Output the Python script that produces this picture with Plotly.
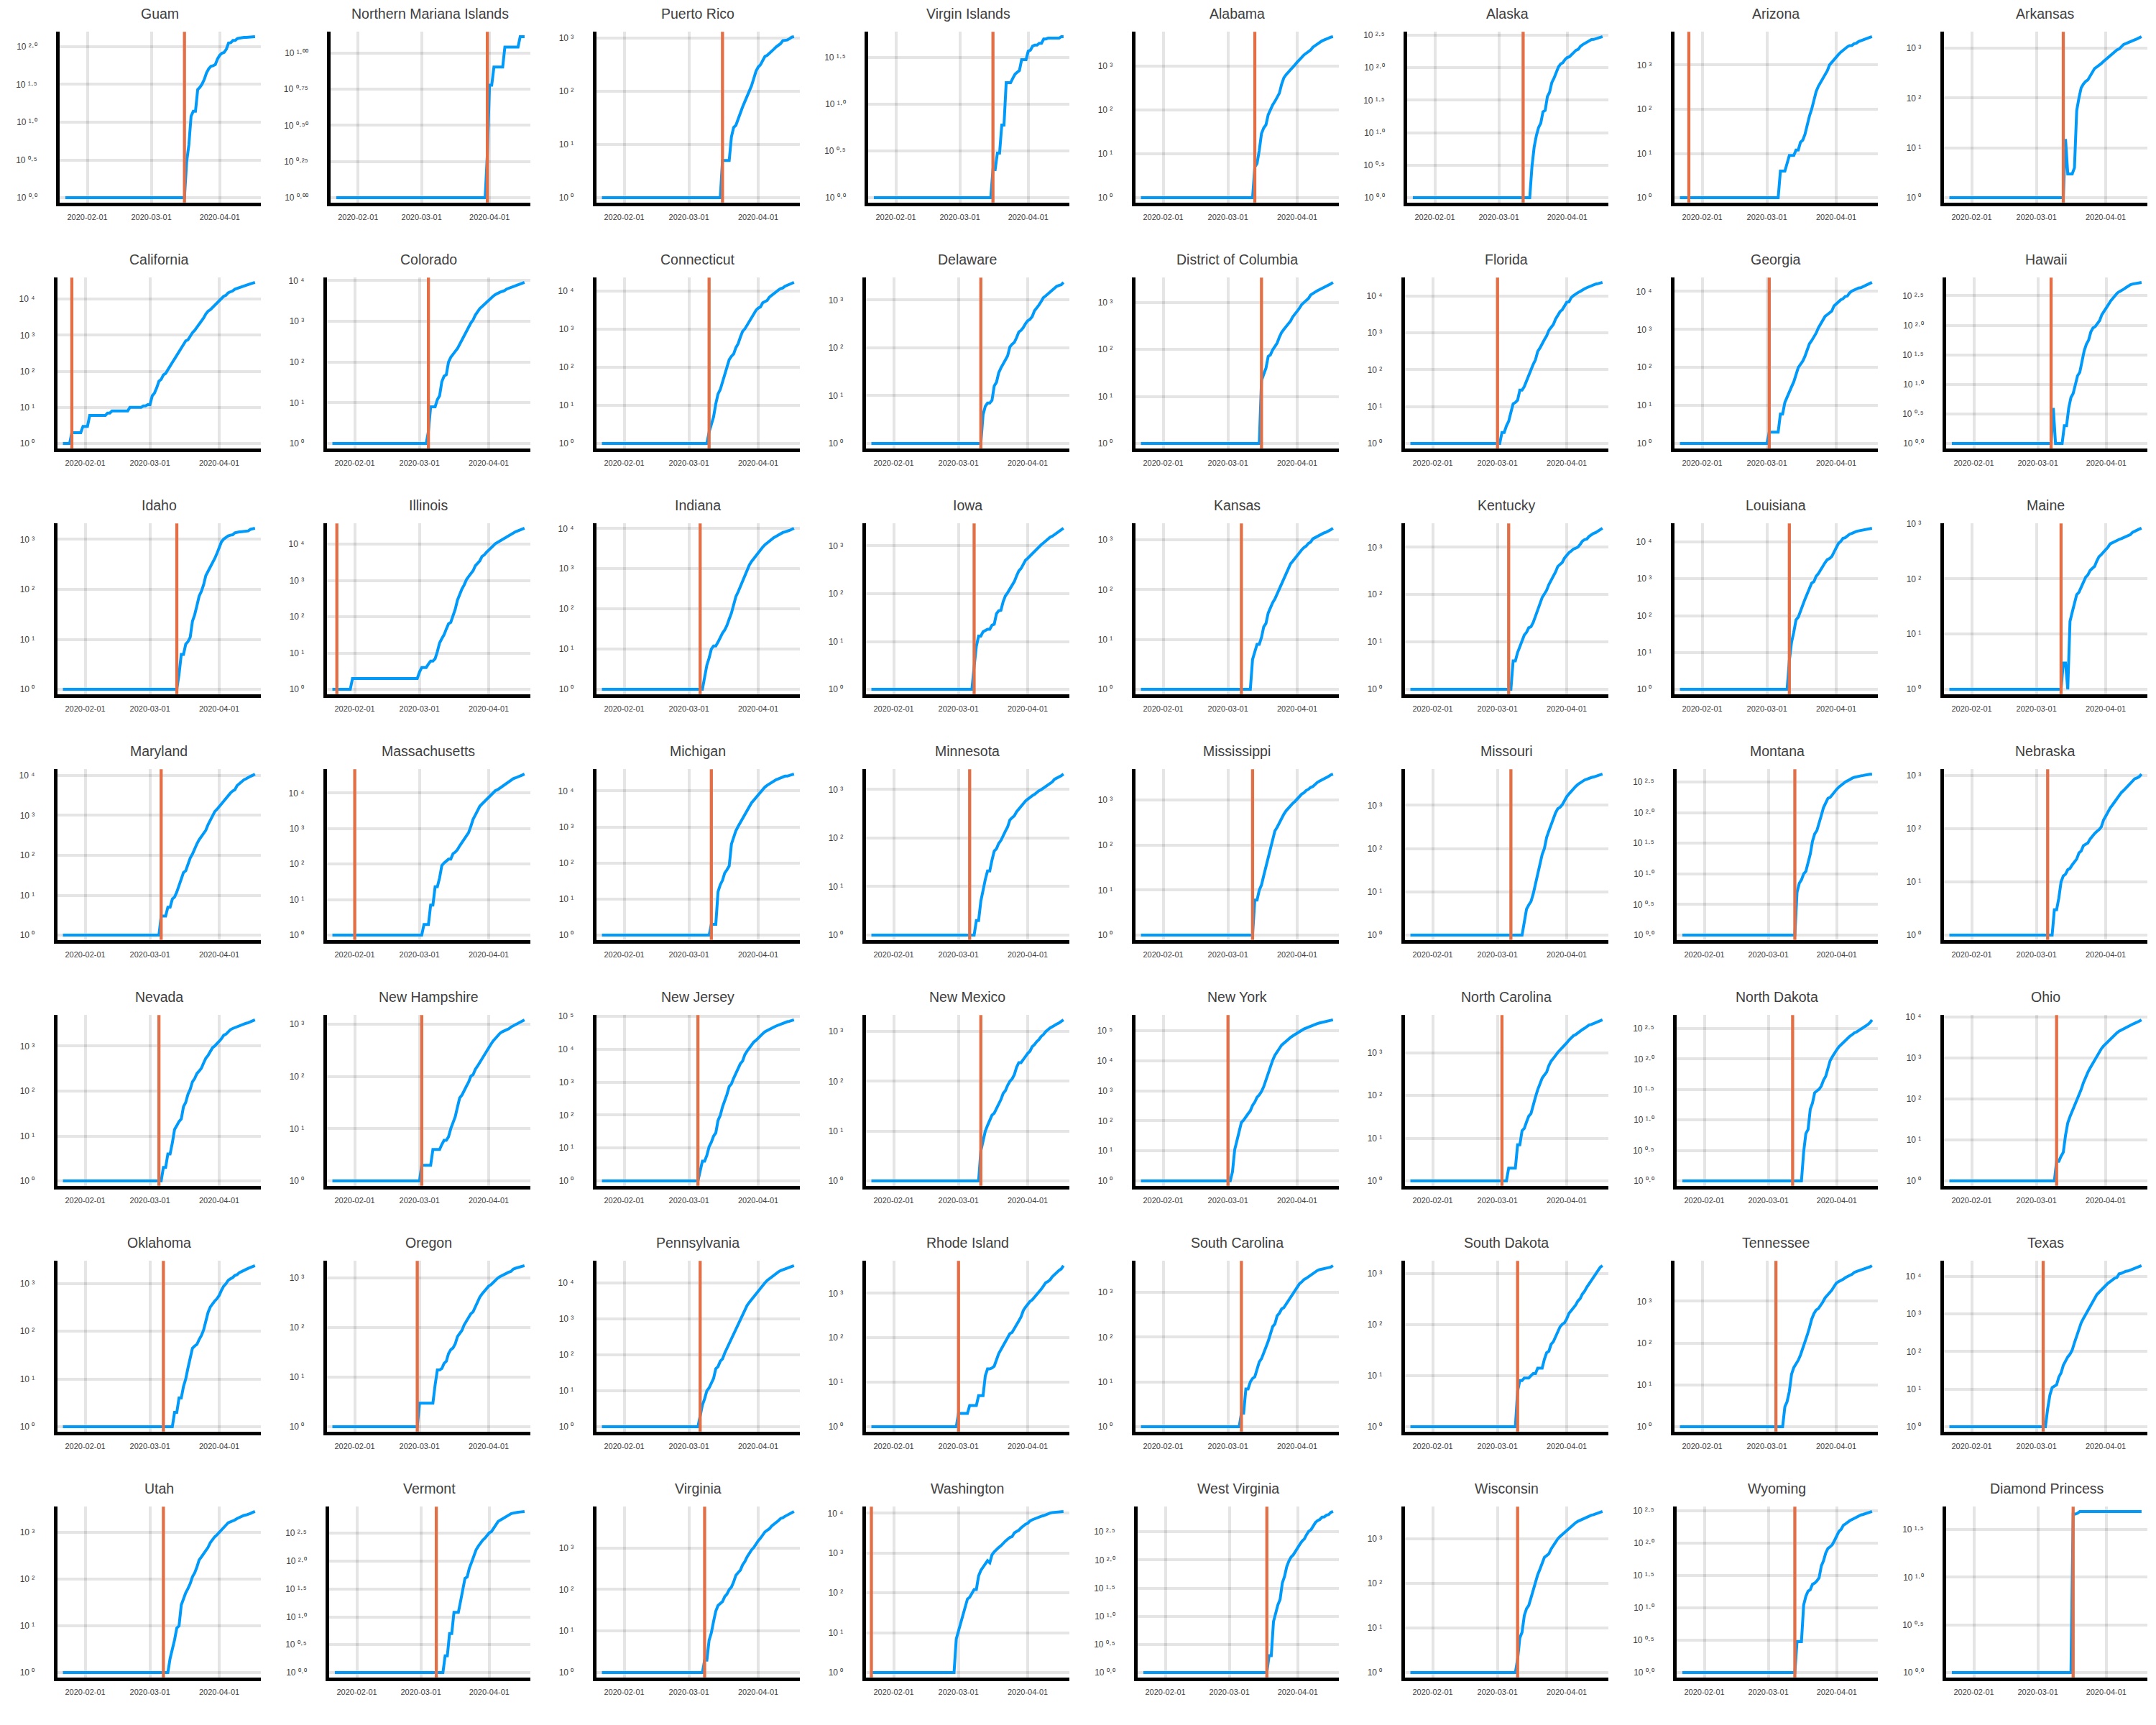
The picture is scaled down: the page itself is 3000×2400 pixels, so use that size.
import numpy as np
import pandas as pd
import plotly.graph_objects as go

# ---------------- data ----------------
DATA_START = "2020-01-22"
DATA_END = "2020-04-17"
X_TICK_DATES = ["2020-02-01", "2020-03-01", "2020-04-01"]
FLOOR_VALUE = 1  # plotted value on days before the series start

STATES = [
    "Guam", "Northern Mariana Islands", "Puerto Rico", "Virgin Islands", "Alabama", "Alaska", "Arizona", "Arkansas",
    "California", "Colorado", "Connecticut", "Delaware", "District of Columbia", "Florida", "Georgia", "Hawaii",
    "Idaho", "Illinois", "Indiana", "Iowa", "Kansas", "Kentucky", "Louisiana", "Maine",
    "Maryland", "Massachusetts", "Michigan", "Minnesota", "Mississippi", "Missouri", "Montana", "Nebraska",
    "Nevada", "New Hampshire", "New Jersey", "New Mexico", "New York", "North Carolina", "North Dakota", "Ohio",
    "Oklahoma", "Oregon", "Pennsylvania", "Rhode Island", "South Carolina", "South Dakota", "Tennessee", "Texas",
    "Utah", "Vermont", "Virginia", "Washington", "West Virginia", "Wisconsin", "Wyoming", "Diamond Princess",
]

FIRST_CASE_DATES = [
    "2020-03-16", "2020-03-31", "2020-03-16", "2020-03-16", "2020-03-13", "2020-03-12", "2020-01-26", "2020-03-13",
    "2020-01-26", "2020-03-05", "2020-03-10", "2020-03-11", "2020-03-16", "2020-03-01", "2020-03-02", "2020-03-07",
    "2020-03-13", "2020-01-24", "2020-03-06", "2020-03-08", "2020-03-07", "2020-03-06", "2020-03-11", "2020-03-12",
    "2020-03-06", "2020-02-01", "2020-03-11", "2020-03-06", "2020-03-12", "2020-03-07", "2020-03-13", "2020-03-06",
    "2020-03-05", "2020-03-02", "2020-03-05", "2020-03-11", "2020-03-01", "2020-03-03", "2020-03-12", "2020-03-10",
    "2020-03-07", "2020-02-29", "2020-03-06", "2020-03-01", "2020-03-07", "2020-03-10", "2020-03-05", "2020-03-04",
    "2020-03-07", "2020-03-08", "2020-03-08", "2020-01-22", "2020-03-18", "2020-03-10", "2020-03-13", "2020-03-17",
]

SERIES_START_DATES = [
    "2020-03-16", "2020-03-31", "2020-03-16", "2020-03-16", "2020-03-13", "2020-03-12", "2020-03-07", "2020-03-13",
    "2020-01-26", "2020-03-05", "2020-03-10", "2020-03-11", "2020-03-16", "2020-03-01", "2020-03-02", "2020-03-07",
    "2020-03-13", "2020-01-31", "2020-03-06", "2020-03-08", "2020-03-07", "2020-03-06", "2020-03-11", "2020-03-12",
    "2020-03-06", "2020-03-02", "2020-03-11", "2020-03-06", "2020-03-12", "2020-03-07", "2020-03-13", "2020-03-06",
    "2020-03-05", "2020-03-02", "2020-03-05", "2020-03-11", "2020-03-01", "2020-03-03", "2020-03-12", "2020-03-10",
    "2020-03-07", "2020-02-29", "2020-03-06", "2020-03-01", "2020-03-07", "2020-03-10", "2020-03-05", "2020-03-04",
    "2020-03-07", "2020-03-12", "2020-03-08", "2020-02-29", "2020-03-18", "2020-03-10", "2020-03-13", "2020-03-17",
]

V_GUAM = [1, 3, 5, 12, 14, 14, 27, 29, 32, 37, 45, 51, 55, 56, 58, 69, 77, 82, 84, 93, 112, 113, 121, 121, 128, 130,
          133, 133, 133, 134, 135, 136, 136]
V_NMI = [2, 6, 6, 8, 8, 8, 8, 8, 11, 11, 11, 11, 11, 11, 11, 13, 13, 13]
V_PR = [5, 5, 5, 5, 14, 21, 23, 31, 39, 51, 64, 79, 100, 127, 174, 239, 286, 316, 378, 452, 475, 513, 573, 620, 683,
        725, 788, 897, 903, 923, 974, 1043, 1068]
V_VI = [2, 2, 3, 3, 6, 6, 17, 17, 17, 19, 21, 22, 23, 30, 30, 30, 37, 38, 42, 43, 43, 45, 45, 50, 50, 51, 51, 51, 51,
        51, 51, 53, 53]
V_AL = [5, 6, 12, 29, 39, 46, 78, 106, 131, 157, 196, 242, 386, 538, 639, 720, 830, 947, 1077, 1233, 1432, 1580, 1796,
        1968, 2169, 2328, 2703, 2947, 3217, 3563, 3734, 3953, 4075, 4345, 4571, 4712]
V_AK = [1, 1, 1, 1, 3, 6, 9, 12, 14, 21, 22, 36, 42, 59, 69, 85, 102, 114, 119, 133, 143, 147, 157, 171, 185, 191, 213,
        226, 235, 246, 257, 270, 272, 277, 285, 293, 300]
V_AZ = [4, 4, 4, 6, 9, 9, 9, 12, 12, 18, 20, 27, 45, 70, 100, 160, 250, 330, 400, 510, 600, 740, 1000, 1160, 1290, 1530,
        1720, 1940, 2130, 2450, 2580, 2730, 2760, 3020, 3110, 3390, 3540, 3700, 3800, 3960, 4230, 4380]
V_AR = [1, 15, 3, 3, 3, 4, 56, 100, 160, 190, 215, 230, 280, 340, 390, 420, 450, 490, 540, 590, 640, 730, 780, 850, 920,
        960, 1050, 1180, 1230, 1280, 1310, 1380, 1470, 1530, 1620, 1700]
V_CA = [2, 2, 2, 2, 2, 3, 3, 3, 6, 6, 6, 6, 6, 6, 6, 6, 7, 7, 8, 8, 8, 8, 8, 8, 8, 8, 10, 10, 10, 10, 10, 10, 11, 11, 12,
        12, 21, 25, 35, 53, 60, 80, 88, 114, 144, 177, 221, 282, 340, 426, 557, 698, 751, 952, 1177, 1364, 1642, 2108,
        2538, 2998, 3899, 4657, 5095, 5852, 7138, 8210, 9399, 10773, 12004, 12837, 15034, 16019, 16957, 18897, 19710,
        21081, 21706, 22795, 23931, 25356, 26686, 27677, 29157]
V_CO = [2, 8, 8, 8, 12, 15, 33, 45, 49, 101, 131, 160, 183, 216, 277, 363, 475, 591, 720, 912, 1086, 1430, 1734, 2061,
        2311, 2627, 2966, 3342, 3728, 4173, 4565, 4950, 5172, 5429, 5655, 6202, 6510, 6893, 7303, 7691, 7941, 8286, 8675,
        9047]
V_CT = [2, 3, 5, 11, 20, 26, 41, 68, 96, 159, 194, 223, 327, 415, 618, 875, 1012, 1291, 1524, 1993, 2571, 3128, 3557,
        3824, 4914, 5276, 5675, 6906, 7781, 8781, 9784, 10538, 11510, 12035, 13381, 13989, 14755, 15884, 16809]
V_DE = [1, 4, 6, 7, 7, 8, 16, 19, 30, 38, 45, 56, 68, 104, 119, 130, 163, 214, 232, 264, 319, 368, 393, 450, 593, 673,
        783, 928, 1116, 1209, 1326, 1479, 1625, 1761, 1926, 2014, 2070, 2323]
V_DC = [22, 31, 40, 71, 77, 98, 116, 137, 183, 231, 267, 304, 342, 401, 495, 586, 653, 757, 902, 998, 1097, 1211, 1440,
        1523, 1660, 1778, 1875, 1955, 2058, 2197, 2350, 2476, 2666]
V_FL = [1, 1, 2, 2, 3, 4, 7, 12, 13, 15, 28, 28, 35, 50, 76, 100, 141, 186, 314, 390, 520, 658, 830, 1171, 1412, 1682,
        2357, 2900, 3763, 4246, 5473, 6741, 6955, 9000, 10268, 11545, 12350, 13324, 14747, 15698, 16826, 17968, 18986,
        19895, 21019, 21628, 22511, 23340]
V_GA = [2, 2, 2, 2, 2, 6, 6, 12, 17, 22, 31, 42, 66, 99, 121, 146, 197, 287, 420, 507, 620, 800, 1097, 1387, 1643, 2198,
        2446, 2683, 3032, 4117, 4748, 5444, 5967, 6383, 7314, 7558, 9156, 10189, 10885, 11859, 12261, 12452, 13315,
        14223, 15260, 15669, 17194]
V_HI = [1, 4, 1, 1, 1, 1, 2, 2, 4, 6, 7, 10, 14, 16, 26, 37, 48, 56, 77, 90, 95, 106, 120, 151, 175, 204, 224, 258, 285,
        319, 351, 371, 387, 410, 435, 465, 486, 499, 504, 511, 517, 530]
V_ID = [1, 2, 5, 5, 8, 9, 11, 23, 31, 47, 73, 91, 123, 189, 230, 261, 340, 415, 525, 669, 891, 1012, 1101, 1170, 1210,
        1232, 1353, 1396, 1407, 1426, 1453, 1464, 1473, 1587, 1655, 1668]
V_IL = [2, 2, 2, 2, 2, 2, 2, 2, 2, 2, 2, 2, 2, 2, 2, 2, 2, 2, 2, 2, 2, 2, 2, 2, 2, 2, 2, 2, 2, 2,
        3, 4, 4, 4, 5, 6, 6, 7, 11, 19, 25, 32, 46, 64, 70, 105, 161, 288, 422, 585, 753, 1049, 1285, 1537, 1865, 2538,
        3024, 3491, 4596, 5057, 5994, 6980, 7695, 8904, 10357, 11256, 12262, 13549, 15078, 16422, 17887, 19180, 20852,
        22025, 23247, 24593, 25733, 27575]
V_IN = [1, 1, 2, 4, 6, 10, 12, 12, 15, 20, 25, 30, 39, 56, 79, 126, 203, 265, 365, 477, 645, 981, 1233, 1514, 1786,
        2159, 2565, 3039, 3437, 3953, 4411, 4944, 5507, 5943, 6351, 6907, 7435, 7928, 8236, 8527, 8960, 9542, 10154]
V_IA = [3, 8, 13, 13, 16, 17, 18, 18, 22, 23, 38, 44, 45, 68, 90, 105, 124, 145, 179, 235, 298, 336, 424, 497, 549, 614,
        699, 786, 868, 946, 1048, 1145, 1270, 1388, 1510, 1587, 1710, 1899, 1995, 2141, 2332]
V_KS = [1, 1, 1, 1, 1, 4, 6, 8, 8, 11, 18, 21, 34, 44, 55, 65, 82, 98, 126, 168, 202, 261, 330, 372, 429, 484, 552, 629,
        698, 747, 845, 900, 1046, 1106, 1166, 1268, 1337, 1376, 1425, 1494, 1588, 1705]
V_KY = [1, 1, 4, 4, 6, 8, 10, 14, 16, 20, 21, 26, 35, 47, 63, 87, 103, 124, 163, 197, 248, 302, 394, 439, 480, 591, 680,
        770, 831, 917, 955, 1008, 1149, 1346, 1452, 1495, 1693, 1840, 1963, 2048, 2210, 2291, 2522]
V_LA = [6, 19, 36, 77, 91, 136, 196, 280, 392, 538, 763, 837, 1172, 1388, 1795, 2305, 2746, 3315, 3540, 4025, 5237,
        6424, 9150, 10297, 12496, 13010, 14867, 16284, 17030, 18283, 19253, 20014, 20595, 21016, 21518, 21951, 23118,
        23580]
V_ME = [1, 3, 3, 1, 17, 25, 35, 52, 57, 70, 89, 107, 118, 142, 155, 168, 211, 253, 275, 303, 344, 376, 432, 456, 470,
        499, 519, 537, 560, 586, 616, 633, 698, 735, 770, 796, 827]
V_MD = [3, 3, 3, 5, 5, 8, 9, 12, 18, 26, 37, 41, 60, 85, 107, 150, 193, 244, 290, 349, 423, 583, 775, 994, 1239, 1413,
        1660, 1985, 2331, 2758, 3125, 3609, 4045, 4371, 5529, 6185, 6968, 7694, 8225, 8936, 9472, 10032, 10784]
V_MA = [1, 2, 2, 2, 7, 7, 23, 23, 41, 92, 108, 123, 138, 138, 197, 218, 256, 328, 413, 525, 646, 777, 1159, 1838, 2417,
        3240, 4257, 4955, 5752, 6620, 7738, 8966, 10402, 11736, 12500, 13837, 15202, 16790, 18941, 20974, 22860, 25475,
        26867, 28163, 29918, 32181, 34402]
V_MI = [2, 2, 2, 16, 25, 33, 53, 65, 83, 334, 552, 788, 1037, 1329, 1793, 2296, 2845, 3634, 4658, 5486, 6508, 7630,
        9315, 10791, 12744, 14225, 15718, 17221, 18970, 20346, 21504, 22783, 24244, 25635, 25635, 27001, 28059, 29263]
V_MN = [1, 1, 1, 2, 2, 5, 9, 14, 21, 21, 35, 54, 60, 77, 89, 115, 138, 169, 235, 262, 287, 346, 398, 441, 503, 576, 629,
        689, 742, 789, 865, 935, 986, 1069, 1154, 1242, 1336, 1427, 1621, 1695, 1809, 1912, 2071]
V_MS = [1, 6, 6, 10, 13, 21, 34, 50, 80, 140, 207, 249, 320, 377, 485, 579, 663, 758, 847, 937, 1073, 1177, 1358, 1455,
        1638, 1738, 1915, 2003, 2260, 2469, 2642, 2781, 2942, 3087, 3360, 3624, 3793]
V_MO = [1, 1, 1, 1, 1, 1, 2, 4, 5, 6, 9, 15, 24, 47, 73, 101, 181, 255, 356, 502, 670, 838, 903, 1031, 1327, 1581, 1833,
        2113, 2367, 2722, 3037, 3327, 3539, 3851, 4024, 4269, 4388, 4515, 4686, 4895, 5111, 5283]
V_MT = [1, 5, 7, 8, 10, 11, 15, 21, 34, 45, 51, 65, 90, 121, 147, 171, 177, 198, 217, 241, 262, 281, 298, 319, 332, 354,
        365, 377, 387, 394, 399, 404, 415, 416, 422, 426]
V_NE = [1, 1, 1, 3, 3, 5, 10, 13, 14, 17, 18, 21, 24, 27, 35, 38, 48, 51, 54, 64, 73, 81, 89, 96, 108, 145, 172, 210,
        246, 279, 321, 367, 409, 479, 523, 577, 635, 699, 791, 871, 901, 952, 1066]
V_NV = [1, 1, 2, 2, 4, 4, 7, 14, 17, 21, 24, 45, 56, 85, 109, 161, 190, 245, 278, 321, 420, 535, 621, 738, 920, 1008,
        1113, 1279, 1458, 1742, 1836, 2087, 2318, 2456, 2584, 2700, 2836, 2971, 3088, 3211, 3321, 3524, 3626, 3830]
V_NH = [2, 2, 2, 2, 2, 4, 4, 4, 4, 5, 6, 6, 7, 10, 13, 17, 26, 39, 44, 55, 65, 78, 101, 108, 137, 158, 187, 214, 258,
        314, 367, 415, 479, 540, 621, 669, 715, 747, 788, 819, 885, 929, 985, 1020, 1091, 1139, 1211]
V_NJ = [1, 2, 4, 4, 6, 11, 15, 23, 29, 69, 98, 178, 267, 427, 742, 890, 1327, 1914, 2844, 3675, 4402, 6876, 8825, 11124,
        13386, 16636, 18696, 22255, 25590, 29895, 34124, 37505, 41090, 44416, 47437, 51027, 54588, 58151, 61850, 64584,
        68824, 71030, 75317, 78467]
V_NM = [4, 6, 10, 13, 17, 21, 23, 28, 35, 43, 57, 65, 83, 100, 112, 136, 191, 237, 237, 281, 315, 363, 403, 495, 543,
        624, 686, 794, 865, 989, 1091, 1174, 1245, 1345, 1407, 1484, 1597, 1711]
V_NY = [1, 1, 2, 11, 22, 44, 89, 106, 142, 173, 217, 326, 421, 610, 732, 950, 1374, 2382, 4152, 7102, 10356, 15168,
        20875, 25665, 33066, 38987, 44635, 53363, 59568, 67174, 75832, 83889, 92506, 102987, 113833, 123160, 131815,
        139875, 151061, 161779, 172348, 181026, 189033, 195031, 202208, 213779, 222284, 229642]
V_NC = [1, 1, 1, 2, 2, 2, 2, 7, 7, 15, 17, 24, 33, 38, 64, 92, 137, 184, 255, 302, 353, 504, 639, 738, 887, 1020, 1167,
        1313, 1535, 1708, 1977, 2246, 2513, 2669, 2952, 3297, 3505, 3766, 4135, 4486, 4596, 4816, 5024, 5195, 5577, 5911]
V_ND = [1, 1, 1, 1, 1, 3, 6, 7, 15, 19, 28, 30, 32, 36, 45, 52, 68, 94, 109, 126, 142, 159, 173, 186, 207, 225, 237,
        251, 269, 278, 293, 308, 331, 341, 365, 393, 439]
V_OH = [3, 3, 4, 5, 13, 26, 37, 50, 67, 88, 119, 169, 247, 351, 443, 564, 704, 868, 1137, 1406, 1653, 1933, 2199, 2547,
        2902, 3312, 3739, 4043, 4450, 4782, 5148, 5512, 5878, 6250, 6604, 6975, 7285, 7794, 8414]
V_OK = [1, 1, 1, 1, 1, 2, 2, 4, 4, 7, 10, 17, 29, 44, 49, 53, 67, 81, 106, 164, 248, 322, 377, 429, 481, 565, 719, 879,
        988, 1159, 1252, 1327, 1472, 1524, 1684, 1794, 1868, 1970, 2069, 2184, 2263, 2357]
V_OR = [1, 3, 3, 3, 3, 3, 3, 3, 7, 14, 14, 15, 19, 21, 30, 36, 39, 47, 66, 75, 88, 114, 137, 161, 191, 209, 266, 316,
        414, 479, 548, 606, 690, 736, 826, 899, 999, 1068, 1132, 1181, 1239, 1321, 1371, 1527, 1584, 1633, 1663, 1736,
        1785]
V_PA = [2, 4, 6, 10, 12, 16, 22, 41, 47, 66, 77, 112, 152, 206, 303, 399, 509, 698, 946, 1260, 1795, 2345, 2845, 3432,
        4155, 4963, 5805, 7016, 8570, 10017, 11589, 12980, 14853, 16631, 18300, 20051, 21719, 22955, 24295, 25465,
        26753, 28258, 29888]
V_RI = [2, 2, 2, 2, 2, 3, 3, 3, 3, 5, 5, 5, 14, 20, 20, 21, 23, 33, 44, 54, 66, 83, 106, 124, 132, 165, 203, 239, 294,
        408, 488, 566, 657, 711, 806, 922, 1082, 1229, 1450, 1727, 1836, 2015, 2349, 2665, 2976, 3251, 3529, 4177]
V_SC = [2, 2, 7, 7, 10, 12, 13, 19, 28, 33, 47, 60, 81, 126, 171, 196, 299, 342, 424, 456, 539, 660, 774, 925, 1083,
        1293, 1554, 1700, 1917, 2049, 2232, 2417, 2552, 2792, 3065, 3207, 3319, 3391, 3439, 3553, 3656, 3931]
V_SD = [5, 8, 8, 9, 9, 9, 10, 11, 11, 14, 14, 14, 21, 28, 30, 41, 46, 58, 68, 90, 101, 108, 129, 165, 187, 212, 240,
        288, 320, 393, 447, 536, 626, 730, 868, 988, 1168, 1311, 1411]
V_TN = [1, 1, 1, 1, 3, 4, 7, 18, 26, 32, 39, 52, 74, 98, 154, 233, 371, 505, 615, 667, 784, 957, 1203, 1373, 1537, 1834,
        2239, 2683, 2933, 3067, 3321, 3633, 3802, 4139, 4362, 4862, 5114, 5308, 5610, 5827, 6079, 6375, 6589, 7070]
V_TX = [1, 1, 3, 7, 11, 12, 13, 21, 27, 43, 57, 72, 85, 110, 173, 260, 394, 581, 758, 974, 1153, 1563, 2052, 2552, 3266,
        3766, 4355, 4862, 5734, 6567, 7276, 8262, 8925, 9353, 11671, 12105, 13023, 13677, 13906, 14624, 15492, 16455,
        17371, 18260, 19260]
V_UT = [1, 1, 1, 2, 3, 5, 9, 10, 28, 39, 51, 63, 80, 112, 136, 181, 257, 298, 346, 402, 480, 602, 719, 806, 888, 1012,
        1092, 1255, 1428, 1605, 1675, 1738, 1846, 1980, 2101, 2206, 2303, 2363, 2417, 2548, 2683, 2805]
V_VT = [2, 2, 5, 5, 12, 12, 12, 19, 29, 49, 52, 75, 95, 123, 158, 184, 211, 235, 256, 293, 321, 338, 389, 461, 512, 543,
        575, 605, 628, 679, 711, 727, 748, 752, 759, 768, 775]
V_VA = [2, 2, 6, 9, 17, 30, 41, 45, 51, 67, 77, 99, 114, 152, 219, 254, 290, 391, 466, 604, 739, 890, 1020, 1250, 1484,
        1706, 2012, 2407, 2637, 2878, 3333, 3645, 4042, 4509, 5077, 5274, 5747, 6182, 6500, 6889, 7491]
V_WA = [7, 11, 18, 27, 39, 70, 78, 102, 122, 122, 267, 366, 442, 568, 643, 570, 904, 1076, 1187, 1376, 1524, 1793, 1996,
        2221, 2469, 2580, 3207, 3477, 3723, 4310, 4896, 5292, 5608, 6389, 6846, 7247, 7591, 7984, 8384, 8682, 9276, 9639,
        10118, 10411, 10609, 10694, 10799, 10942, 11057]
V_WV = [1, 2, 2, 8, 12, 16, 20, 39, 51, 76, 96, 113, 124, 145, 162, 191, 217, 237, 282, 324, 345, 412, 462, 502, 523,
        577, 583, 626, 640, 702, 728]
V_WI = [2, 6, 8, 19, 27, 32, 47, 72, 106, 155, 206, 282, 381, 416, 457, 585, 707, 842, 989, 1112, 1230, 1412, 1550,
        1748, 1916, 2112, 2267, 2440, 2578, 2756, 2885, 3068, 3213, 3341, 3428, 3555, 3721, 3875, 4045]
V_WY = [1, 3, 3, 3, 11, 15, 18, 19, 23, 24, 26, 29, 44, 53, 70, 82, 87, 94, 109, 130, 150, 162, 187, 197, 210, 221, 230,
        239, 253, 261, 270, 275, 282, 287, 296, 305]
V_DP = [46, 46, 47, 49, 49, 49, 49, 49, 49, 49, 49, 49, 49, 49, 49, 49, 49, 49, 49, 49, 49, 49, 49, 49, 49, 49, 49, 49,
        49, 49, 49, 49]

SERIES = [
    V_GUAM, V_NMI, V_PR, V_VI, V_AL, V_AK, V_AZ, V_AR,
    V_CA, V_CO, V_CT, V_DE, V_DC, V_FL, V_GA, V_HI,
    V_ID, V_IL, V_IN, V_IA, V_KS, V_KY, V_LA, V_ME,
    V_MD, V_MA, V_MI, V_MN, V_MS, V_MO, V_MT, V_NE,
    V_NV, V_NH, V_NJ, V_NM, V_NY, V_NC, V_ND, V_OH,
    V_OK, V_OR, V_PA, V_RI, V_SC, V_SD, V_TN, V_TX,
    V_UT, V_VT, V_VA, V_WA, V_WV, V_WI, V_WY, V_DP,
]

# ---------------- style ----------------
W, H = 3000, 2400
NCOL, NROW = 8, 7
COL_W, ROW_H = W / NCOL, H / NROW
BLUE = "#009AFA"
RED = "#E36F47"
GRID = "rgba(0,0,0,0.10)"
TXT = "#404040"
FONT = "Liberation Sans, Arial, Helvetica, sans-serif"
SUPERSCRIPT = str.maketrans("0123456789.-", "⁰¹²³⁴⁵⁶⁷⁸⁹·⁻")


def power_label(exp_text):
    return "10 " + exp_text.translate(SUPERSCRIPT)


dates = pd.date_range(DATA_START, DATA_END, freq="D")
pad_days = 0.03 * (len(dates) - 1)
fmt_t = "%Y-%m-%d %H:%M:%S"
x_range = [(dates[0] - pd.Timedelta(days=pad_days)).strftime(fmt_t),
           (dates[-1] + pd.Timedelta(days=pad_days)).strftime(fmt_t)]

fig = go.Figure()
layout_axes = {}
shapes = []
annotations = []

for i, name in enumerate(STATES):
    row, col = divmod(i, NCOL)
    k = "" if i == 0 else str(i + 1)
    start = pd.Timestamp(SERIES_START_DATES[i])
    n_pre = (start - dates[0]).days
    vals = list(SERIES[i])
    if n_pre + len(vals) != len(dates):
        raise ValueError(f"{name}: got {len(vals)} values, need {len(dates) - n_pre}")
    y = [FLOOR_VALUE] * n_pre + vals

    fig.add_trace(go.Scatter(x=dates, y=y, mode="lines", line=dict(color=BLUE, width=4),
                             xaxis="x" + k, yaxis="y" + k, showlegend=False, hoverinfo="skip"))

    lo, hi = np.log10(min(y)), np.log10(max(y))
    pad = 0.03 * (hi - lo)
    y0, y1 = lo - pad, hi + pad
    for step, fmt in [(1.0, "{:.0f}"), (0.5, "{:.1f}"), (0.25, "{:.2f}")]:
        kmin = int(np.ceil(y0 / step - 1e-9))
        kmax = int(np.floor(y1 / step + 1e-9))
        ticks = [j * step for j in range(kmin, kmax + 1)]
        if len(ticks) >= 4:
            break
    left_px = col * COL_W + {1.0: 79.5, 0.5: 83.0, 0.25: 85.0}[step]
    right_px = col * COL_W + 362.8
    top_px = row * ROW_H + 38.3
    bot_px = row * ROW_H + 276.5
    xd = [left_px / W, right_px / W]
    yd = [1 - bot_px / H, 1 - top_px / H]

    layout_axes["xaxis" + k] = dict(
        domain=xd, anchor="y" + k, type="date", range=x_range,
        tickvals=X_TICK_DATES, ticktext=X_TICK_DATES,
        showgrid=True, gridcolor=GRID, gridwidth=3.5, zeroline=False,
        showline=True, linecolor="black", linewidth=4.5,
        ticks="outside", ticklen=6, tickcolor="rgba(0,0,0,0)",
        tickfont=dict(size=11, color=TXT, family=FONT), fixedrange=True,
    )
    layout_axes["yaxis" + k] = dict(
        domain=yd, anchor="x" + k, type="log", range=[y0, y1],
        tickvals=[10 ** t for t in ticks],
        ticktext=[power_label(fmt.format(t)) for t in ticks],
        showgrid=True, gridcolor=GRID, gridwidth=3.5, zeroline=False,
        showline=True, linecolor="black", linewidth=4.5,
        ticks="outside", ticklen=24, tickcolor="rgba(0,0,0,0)",
        tickfont=dict(size=12, color=TXT, family=FONT), fixedrange=True,
    )
    shapes.append(dict(type="line", xref="x" + k, yref="y" + k + " domain",
                       x0=FIRST_CASE_DATES[i], x1=FIRST_CASE_DATES[i], y0=0, y1=1,
                       line=dict(color=RED, width=4.3), layer="above"))
    annotations.append(dict(text=name, xref="paper", yref="paper",
                            x=(xd[0] + xd[1]) / 2, y=1 - (row * ROW_H + 13.5) / H,
                            xanchor="center", yanchor="middle", showarrow=False,
                            font=dict(size=19.5, color=TXT, family=FONT)))

fig.update_layout(
    width=W, height=H, margin=dict(l=0, r=0, t=0, b=0),
    paper_bgcolor="white", plot_bgcolor="white",
    showlegend=False, shapes=shapes, annotations=annotations,
    font=dict(family=FONT, color=TXT),
    **layout_axes,
)

fig.write_html("out.html")
